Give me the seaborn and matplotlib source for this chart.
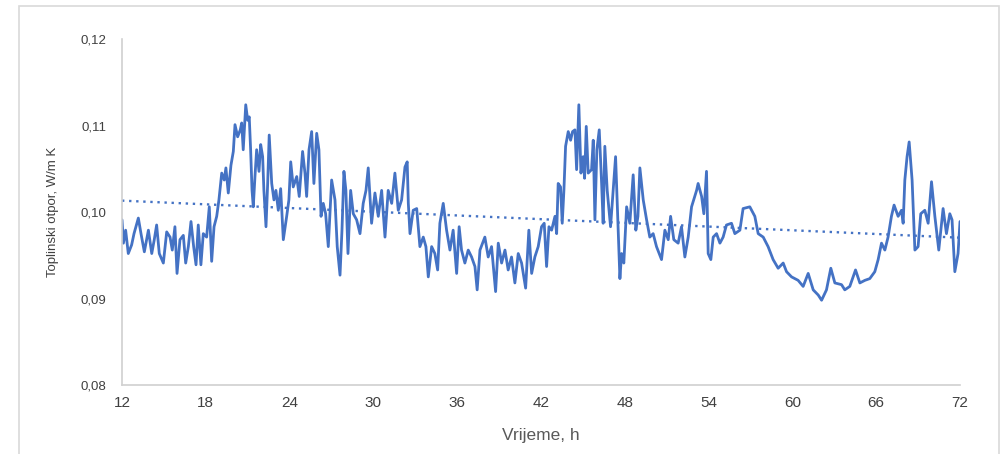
import numpy as np
import pandas as pd
import matplotlib
matplotlib.use("Agg")
import matplotlib.pyplot as plt
import seaborn as sns
from matplotlib.patches import Rectangle
from matplotlib import font_manager

# ---- data ----
hours = [
    12.00, 12.10, 12.26, 12.45, 12.69, 12.86, 13.17, 13.36, 13.60, 13.89,
    14.13, 14.31, 14.48, 14.67, 14.96, 15.20, 15.44, 15.60, 15.79, 15.94,
    16.15, 16.39, 16.56, 16.75, 16.94, 17.13, 17.30, 17.46, 17.65, 17.82,
    18.06, 18.25, 18.42, 18.59, 18.78, 18.94, 19.14, 19.32, 19.44, 19.61,
    19.80, 19.97, 20.09, 20.28, 20.47, 20.57, 20.68, 20.86, 21.00, 21.11,
    21.21, 21.31, 21.40, 21.52, 21.64, 21.81, 21.93, 22.07, 22.16, 22.31,
    22.43, 22.54, 22.72, 22.88, 23.02, 23.19, 23.36, 23.55, 23.79, 23.95,
    24.08, 24.26, 24.51, 24.69, 24.93, 25.10, 25.22, 25.39, 25.58, 25.74,
    25.94, 26.10, 26.25, 26.41, 26.58, 26.77, 27.01, 27.25, 27.41, 27.61,
    27.75, 27.89, 28.03, 28.18, 28.37, 28.56, 28.80, 29.04, 29.27, 29.47,
    29.63, 29.87, 30.11, 30.35, 30.59, 30.83, 31.06, 31.31, 31.54, 31.78,
    32.02, 32.26, 32.42, 32.50, 32.62, 32.85, 33.10, 33.33, 33.57, 33.76,
    33.93, 34.17, 34.40, 34.60, 34.76, 35.00, 35.24, 35.48, 35.71, 35.96,
    36.14, 36.31, 36.55, 36.79, 37.03, 37.27, 37.43, 37.63, 37.98, 38.22,
    38.46, 38.75, 38.94, 39.18, 39.42, 39.65, 39.89, 40.13, 40.37, 40.61,
    40.90, 41.13, 41.33, 41.56, 41.80, 42.04, 42.23, 42.40, 42.57, 42.76,
    43.00, 43.12, 43.23, 43.40, 43.52, 43.64, 43.76, 43.95, 44.12, 44.26,
    44.43, 44.55, 44.71, 44.86, 45.02, 45.12, 45.24, 45.38, 45.62, 45.74,
    45.86, 46.00, 46.17, 46.34, 46.45, 46.57, 46.74, 46.98, 47.17, 47.34,
    47.53, 47.65, 47.77, 47.93, 48.13, 48.36, 48.60, 48.79, 48.94, 49.08,
    49.32, 49.56, 49.79, 50.03, 50.27, 50.63, 50.87, 51.11, 51.28, 51.51,
    51.82, 52.06, 52.30, 52.54, 52.78, 53.14, 53.25, 53.50, 53.66, 53.85,
    53.97, 54.16, 54.33, 54.57, 54.81, 55.04, 55.28, 55.64, 55.88, 56.24,
    56.47, 56.95, 57.31, 57.55, 57.91, 58.26, 58.62, 58.98, 59.34, 59.58,
    59.94, 60.41, 60.77, 61.13, 61.49, 61.85, 62.09, 62.44, 62.75, 63.04,
    63.52, 63.75, 64.11, 64.52, 64.83, 65.19, 65.54, 65.90, 66.14, 66.38,
    66.62, 66.85, 67.09, 67.28, 67.57, 67.81, 67.93, 68.05, 68.21, 68.36,
    68.57, 68.77, 69.00, 69.19, 69.48, 69.72, 69.96, 70.20, 70.48, 70.79,
    71.03, 71.27, 71.43, 71.63, 71.86, 72.00,
]
resistance = [
    0.0991, 0.0964, 0.0979, 0.0952, 0.0962, 0.0975, 0.0993, 0.0975, 0.0954, 0.0979,
    0.0952, 0.0968, 0.0985, 0.0952, 0.0941, 0.0977, 0.0971, 0.0956, 0.0983, 0.0929,
    0.0968, 0.0973, 0.0941, 0.0960, 0.0989, 0.0960, 0.0939, 0.0985, 0.0939, 0.0975,
    0.0971, 0.1006, 0.0943, 0.0983, 0.0995, 0.1014, 0.1045, 0.1037, 0.1051, 0.1022,
    0.1054, 0.1070, 0.1101, 0.1087, 0.1095, 0.1103, 0.1072, 0.1124, 0.1106, 0.1110,
    0.1072, 0.1025, 0.1006, 0.1041, 0.1072, 0.1047, 0.1078, 0.1064, 0.1025, 0.0983,
    0.1033, 0.1089, 0.1033, 0.1014, 0.1025, 0.1002, 0.1027, 0.0968, 0.0995, 0.1014,
    0.1058, 0.1029, 0.1041, 0.1018, 0.1070, 0.1045, 0.1018, 0.1072, 0.1093, 0.1033,
    0.1091, 0.1072, 0.0995, 0.1010, 0.0998, 0.0960, 0.1037, 0.1014, 0.0960, 0.0927,
    0.0979, 0.1047, 0.1025, 0.0952, 0.1025, 0.0998, 0.0991, 0.0975, 0.1010, 0.1025,
    0.1051, 0.0987, 0.1022, 0.0995, 0.1025, 0.0971, 0.1025, 0.1010, 0.1045, 0.1002,
    0.1014, 0.1052, 0.1058, 0.1010, 0.0975, 0.1002, 0.1004, 0.0960, 0.0971, 0.0960,
    0.0925, 0.0960, 0.0952, 0.0933, 0.0987, 0.1010, 0.0979, 0.0956, 0.0979, 0.0929,
    0.0983, 0.0956, 0.0941, 0.0956, 0.0948, 0.0937, 0.0910, 0.0956, 0.0971, 0.0948,
    0.0960, 0.0908, 0.0964, 0.0941, 0.0956, 0.0933, 0.0948, 0.0918, 0.0952, 0.0941,
    0.0912, 0.0979, 0.0929, 0.0948, 0.0960, 0.0983, 0.0987, 0.0937, 0.0983, 0.0979,
    0.0995, 0.0975, 0.1033, 0.1029, 0.0987, 0.1025, 0.1076, 0.1093, 0.1083, 0.1093,
    0.1095, 0.1049, 0.1124, 0.1045, 0.1064, 0.1039, 0.1099, 0.1045, 0.1049, 0.1083,
    0.0991, 0.1072, 0.1095, 0.1033, 0.0987, 0.1076, 0.1025, 0.0983, 0.1025, 0.1064,
    0.0979, 0.0923, 0.0952, 0.0941, 0.1006, 0.0987, 0.1043, 0.0979, 0.0995, 0.1051,
    0.1014, 0.0991, 0.0971, 0.0975, 0.0960, 0.0945, 0.0979, 0.0968, 0.0995, 0.0968,
    0.0964, 0.0983, 0.0948, 0.0971, 0.1006, 0.1025, 0.1033, 0.1018, 0.0998, 0.1047,
    0.0952, 0.0945, 0.0971, 0.0975, 0.0964, 0.0971, 0.0985, 0.0987, 0.0975, 0.0979,
    0.1004, 0.1006, 0.0995, 0.0975, 0.0971, 0.0960, 0.0945, 0.0935, 0.0941, 0.0931,
    0.0925, 0.0921, 0.0914, 0.0929, 0.0910, 0.0904, 0.0898, 0.0910, 0.0935, 0.0918,
    0.0916, 0.0910, 0.0914, 0.0933, 0.0918, 0.0921, 0.0923, 0.0931, 0.0945, 0.0964,
    0.0956, 0.0971, 0.0995, 0.1008, 0.0995, 0.1002, 0.0987, 0.1037, 0.1064, 0.1081,
    0.1037, 0.0956, 0.0960, 0.0998, 0.1002, 0.0987, 0.1035, 0.0995, 0.0956, 0.1004,
    0.0975, 0.0998, 0.0991, 0.0931, 0.0952, 0.0989,
]
x_ticks = [12, 18, 24, 30, 36, 42, 48, 54, 60, 66, 72]
y_ticks = [0.08, 0.09, 0.10, 0.11, 0.12]
x_label = "Vrijeme, h"
y_label = "Toplinski otpor, W/m K"

df = pd.DataFrame({"h": hours, "R": resistance})

# ---- style ----
sns.set_style("white")
plt.rcParams["font.family"] = ["Liberation Sans", "DejaVu Sans"]
narrow = "Liberation Sans Narrow"
avail = {f.name for f in font_manager.fontManager.ttflist}
if narrow not in avail:
    narrow = "Liberation Sans"

LINE = "#4472C4"
fig = plt.figure(figsize=(10, 4.54), dpi=100)
ax = fig.add_axes([0.122, 0.152, 0.838, 0.762])

sns.lineplot(data=df, x="h", y="R", ax=ax, color=LINE, linewidth=2.0)

# linear trend line (dotted)
coef = np.polyfit(df["h"], df["R"], 1)
xt = np.array([x_ticks[0], x_ticks[-1]])
ax.plot(xt, np.polyval(coef, xt), linestyle=(0, (1, 2.0)), color=LINE, linewidth=1.7)

ax.set_xlim(x_ticks[0], x_ticks[-1])
ax.set_ylim(y_ticks[0], y_ticks[-1])
ax.set_xticks(x_ticks)
ax.set_yticks(y_ticks)
ax.set_xticklabels([str(t) for t in x_ticks], fontfamily=narrow, fontsize=11, color="#404040")
ax.set_yticklabels([f"{t:.2f}".replace(".", ",") for t in y_ticks], fontsize=9.5, color="#404040")
ax.tick_params(axis="x", length=0, pad=8)
ax.tick_params(axis="y", length=5, width=1, color="#bfbfbf", direction="out", pad=6)

for s in ["top", "right"]:
    ax.spines[s].set_visible(False)
for s in ["left", "bottom"]:
    ax.spines[s].set_color("#d0d0d0")
    ax.spines[s].set_linewidth(1.2)

ax.set_xlabel(x_label, fontfamily=narrow, fontsize=12.5, color="#595959", labelpad=13)
ax.set_ylabel(y_label, fontsize=9.5, color="#404040", labelpad=16)

# figure frame
fig.patches.append(Rectangle((19 / 1000, -0.05), (999 - 19) / 1000, 1 - 6 / 454 + 0.05,
                             transform=fig.transFigure, fill=False,
                             edgecolor="#d9d9d9", linewidth=1.2))

fig.savefig("out.png", dpi=100)
